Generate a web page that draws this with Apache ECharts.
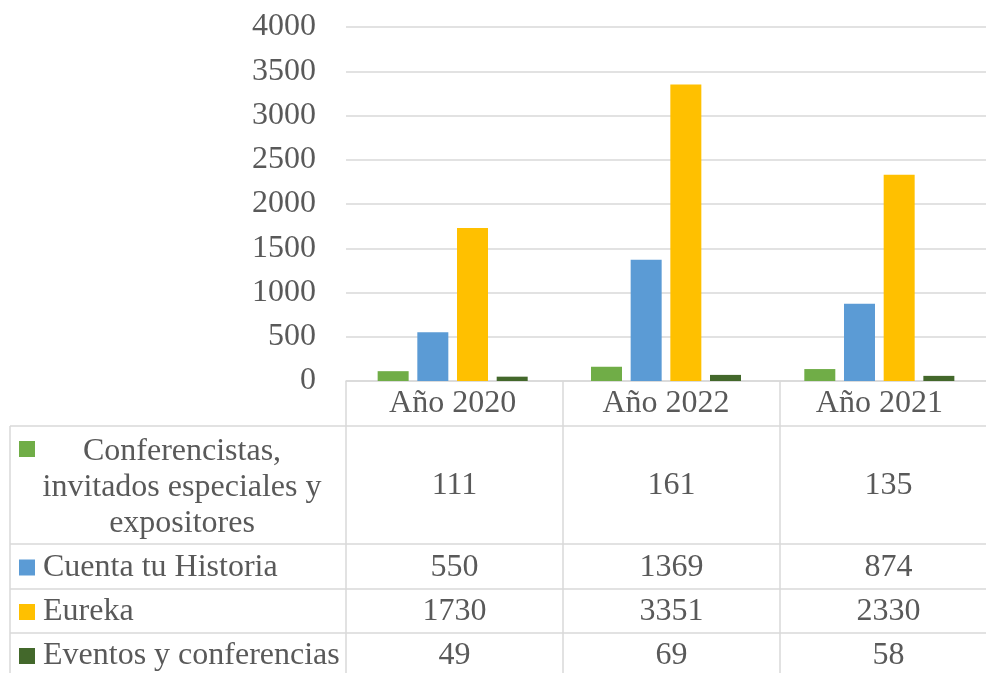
<!DOCTYPE html>
<html>
<head>
<meta charset="utf-8">
<script src="https://cdn.jsdelivr.net/npm/echarts@6/dist/echarts.min.js"></script>
<style>
  html, body { margin: 0; padding: 0; background: #fff; }
  #chart { width: 986px; height: 673px; }
</style>
</head>
<body>
<div id="chart"></div>
<script>
const years = ['Año 2020', 'Año 2022', 'Año 2021']
const seriesNames = [
  'Conferencistas, invitados especiales y expositores',
  'Cuenta tu Historia',
  'Eureka',
  'Eventos y conferencias'
]
const rowLabels = [
  'Conferencistas,\ninvitados especiales y\nexpositores',
  'Cuenta tu Historia',
  'Eureka',
  'Eventos y conferencias'
]
const conferencistas = [111, 161, 135]
const cuentaTuHistoria = [550, 1369, 874]
const eureka = [1730, 3351, 2330]
const eventos = [49, 69, 58]
const colors = ['#70AD47', '#5B9BD5', '#FFC000', '#43682B']

const values = [conferencistas, cuentaTuHistoria, eureka, eventos]

// layout of the data table under the plot
const FONT = '"Liberation Serif", "Times New Roman", serif'
const FS = 32
const TEXT = '#595959'
const LINE = '#d9d9d9'
const GRID_LEFT = 346
const COL_W = 217
const AXIS_Y = 381
const rowEdges = [426, 544, 589, 633, 690]

const chart = echarts.init(document.getElementById('chart'))

chart.setOption({
  animation: false,
  textStyle: { fontFamily: FONT },
  grid: { left: GRID_LEFT, top: 27, width: COL_W * years.length, height: AXIS_Y - 27 },
  xAxis: {
    type: 'category',
    data: years,
    axisLine: { lineStyle: { color: LINE, width: 1.5 } },
    axisTick: { show: false },
    axisLabel: { fontSize: FS, color: TEXT, fontFamily: FONT, margin: 7, lineHeight: 32 }
  },
  yAxis: {
    type: 'value',
    min: 0,
    max: 4000,
    interval: 500,
    axisLine: { show: false },
    axisTick: { show: false },
    axisLabel: { fontSize: FS, color: TEXT, fontFamily: FONT, margin: 30, formatter: v => String(v) },
    splitLine: { lineStyle: { color: LINE, width: 1.5 } }
  },
  series: values.map((v, i) => ({
    name: seriesNames[i],
    type: 'bar',
    data: v,
    barWidth: 31,
    barGap: '28%',
    itemStyle: { color: colors[i] }
  }))
})

const graphics = []
const tableRight = GRID_LEFT + COL_W * years.length
const line = (x1, y1, x2, y2) => graphics.push({
  type: 'line',
  shape: { x1, y1, x2, y2 },
  style: { stroke: LINE, lineWidth: 1.5 },
  silent: true
})
const text = (str, x, y, align) => graphics.push({
  type: 'text',
  style: {
    text: str, x, y,
    align, verticalAlign: 'middle',
    fontSize: FS, fontFamily: FONT, fill: TEXT,
    lineHeight: 36
  },
  silent: true
})

// horizontal rules
rowEdges.slice(0, -1).forEach(y => line(10, y, tableRight, y))
// vertical rules
line(10, rowEdges[0], 10, rowEdges[rowEdges.length - 1])
for (let c = 0; c <= years.length; c++) {
  const x = GRID_LEFT + c * COL_W
  line(x, AXIS_Y, x, rowEdges[rowEdges.length - 1])
}

seriesNames.forEach((name, r) => {
  const top = rowEdges[r]
  const mid = r === 3 ? top + 23 : (top + rowEdges[r + 1]) / 2 + 1
  const keyY = r === 0 ? top + 23 : mid
  graphics.push({
    type: 'rect',
    shape: { x: 19, y: keyY - 8, width: 16, height: 16 },
    style: { fill: colors[r] },
    silent: true
  })
  if (r === 0) text(rowLabels[r], 182, mid + 2, 'center')
  else text(rowLabels[r], 43, mid, 'left')
  values[r].forEach((v, c) => {
    text(String(v), GRID_LEFT + COL_W * (c + 0.5), mid, 'center')
  })
})

chart.setOption({ graphic: graphics })
</script>
</body>
</html>
